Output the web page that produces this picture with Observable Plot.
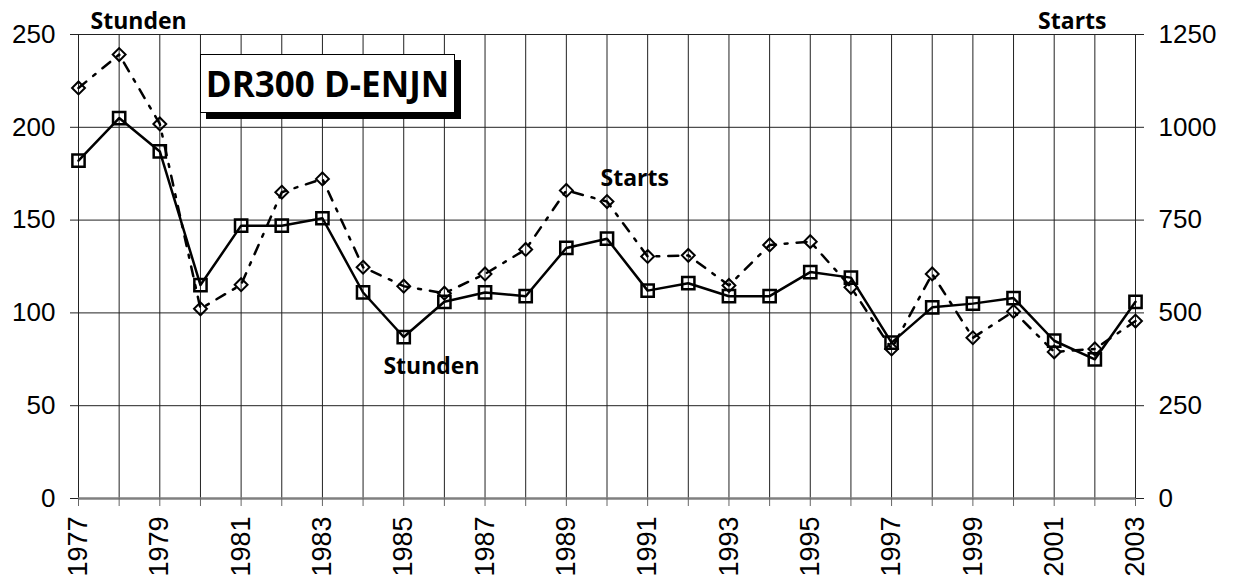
<!DOCTYPE html>
<html>
<head>
<meta charset="utf-8">
<script src="https://cdn.jsdelivr.net/npm/d3@7"></script>
<script src="https://cdn.jsdelivr.net/npm/@observablehq/plot@0.6"></script>
<style>
  body { margin: 0; background: #fff; }
  #wrap { position: relative; width: 1235px; height: 578px; }
  #title {
    position: absolute; left: 200px; top: 54px; width: 255px; height: 59px;
    box-sizing: border-box; border: 1px solid #000; background: #fff;
    box-shadow: 6px 6px 0 #000;
    font: 700 35px "Open Sans", sans-serif; color: #000;
    display: flex; align-items: center; justify-content: center; letter-spacing: 0px;
  }
</style>
</head>
<body>
<div id="wrap"><div id="title">DR300 D-ENJN</div></div>
<script>
// ---- data ----
const years = [1977,1978,1979,1980,1981,1982,1983,1984,1985,1986,1987,1988,1989,1990,
               1991,1992,1993,1994,1995,1996,1997,1998,1999,2000,2001,2002,2003];
const stunden = [182,205,187,115,147,147,151,111,87,106,111,109,135,140,
                 112,116,109,109,122,119,84,103,105,108,85,75,106];
const starts = [1106,1196,1009,511,576,825,861,623,572,553,605,671,830,800,
                652,655,574,683,692,569,403,605,433,504,395,403,478];
const leftTicks = [0,50,100,150,200,250];
const rightTicks = [0,250,500,750,1000,1250];
const startsPerStunde = 5; // right axis is 5x the left axis
const titleText = "DR300 D-ENJN";
const inlineLabels = [
  {name: "Starts", year: 1989.84, value: 168.6},
  {name: "Stunden", year: 1984.5, value: 67.3}
];

const rows = years.map((y, i) => ({year: y, stunden: stunden[i], starts: starts[i] / startsPerStunde}));
document.getElementById("title").textContent = titleText;

const boldFont = "Open Sans";
const chart = Plot.plot({
  width: 1235,
  height: 578,
  marginTop: 34,
  marginBottom: 80,
  marginLeft: 78,
  marginRight: 100,
  style: {fontFamily: "Liberation Sans, Arial, sans-serif", background: "transparent", color: "#000"},
  x: {domain: [1977, 2003]},
  y: {domain: [0, 250]},
  marks: [
    Plot.gridX(years, {stroke: "#222", strokeOpacity: 1, strokeWidth: 1}),
    Plot.gridY(leftTicks, {stroke: "#222", strokeOpacity: 1, strokeWidth: 1}),
    Plot.ruleY([0], {stroke: "#808080", strokeWidth: 2.5}),
    Plot.axisY(leftTicks, {anchor: "left", tickSize: 8, tickPadding: 15, fontSize: 26, label: null, stroke: "#222"}),
    Plot.axisY(rightTicks.map(d => d / startsPerStunde), {
      anchor: "right", tickSize: 8, tickPadding: 15, fontSize: 26, label: null, stroke: "#222",
      tickFormat: (d, i) => String(rightTicks[i])
    }),
    Plot.axisX(years, {
      anchor: "bottom", tickSize: 8, tickPadding: 10, tickRotate: -90, fontSize: 27, label: null, stroke: "#666",
      tickFormat: d => ((d - 1977) % 2 === 0 ? String(d) : "")
    }),
    Plot.line(rows, {x: "year", y: "starts", stroke: "#000", strokeWidth: 2.5, strokeDasharray: "10,9,3,9"}),
    Plot.line(rows, {x: "year", y: "stunden", stroke: "#000", strokeWidth: 2.5}),
    Plot.dot(rows, {x: "year", y: "starts", symbol: "diamond2", r: 5.8, stroke: "#000", strokeWidth: 2, fill: "none"}),
    Plot.dot(rows, {x: "year", y: "stunden", symbol: "square", r: 6.9, stroke: "#000", strokeWidth: 2.5, fill: "none"}),
    Plot.text(inlineLabels, {x: "year", y: "value", text: "name", textAnchor: "start", lineAnchor: "bottom",
      fontSize: 23, fontWeight: "bold", fontFamily: boldFont, fill: "#000"}),
    Plot.text(["Stunden"], {text: d => d, frameAnchor: "top-left", dx: 12, dy: -6, textAnchor: "start", lineAnchor: "bottom",
      fontSize: 23, fontWeight: "bold", fontFamily: boldFont, fill: "#000"}),
    Plot.text(["Starts"], {text: d => d, frameAnchor: "top-right", dx: -29, dy: -6, textAnchor: "end", lineAnchor: "bottom",
      fontSize: 23, fontWeight: "bold", fontFamily: boldFont, fill: "#000"})
  ]
});
chart.style.position = "absolute";
chart.style.left = "0";
chart.style.top = "0";
const wrap = document.getElementById("wrap");
wrap.insertBefore(chart, wrap.firstChild);
</script>
</body>
</html>
